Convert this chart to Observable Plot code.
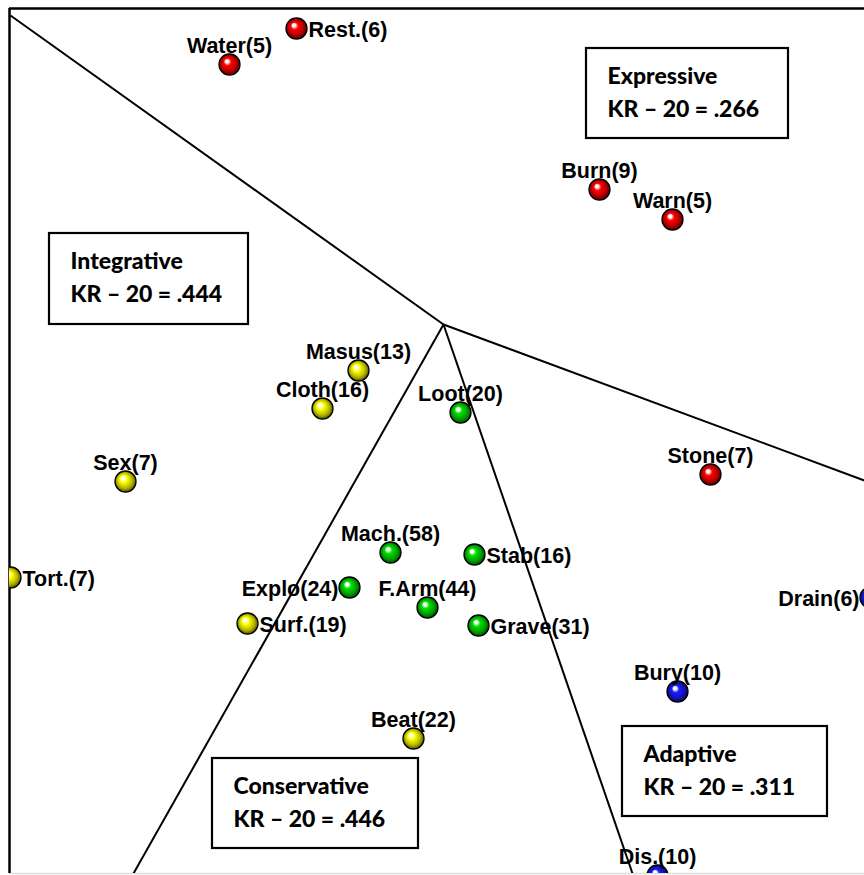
<!DOCTYPE html>
<html>
<head>
<meta charset="utf-8">
<script src="https://cdn.jsdelivr.net/npm/d3@7"></script>
<script src="https://cdn.jsdelivr.net/npm/@observablehq/plot@0.6"></script>
<style>
  html, body { margin: 0; padding: 0; background: #fff; overflow: hidden; }
  g[aria-label="point-label"] text { letter-spacing: 0.9px; }
</style>
</head>
<body>
<div id="chart"></div>
<script>
// ---- Data (MDS-like coordinates) ----
const names  = ["Rest.(6)","Water(5)","Burn(9)","Warn(5)","Stone(7)",
                "Drain(6)","Bury(10)","Dis.(10)",
                "Masus(13)","Cloth(16)","Sex(7)","Tort.(7)","Surf.(19)","Beat(22)",
                "Loot(20)","Mach.(58)","Stab(16)","Explo(24)","F.Arm(44)","Grave(31)"];
const dim1   = [-1.47,-2.14, 1.56, 2.29, 2.67,
                 4.27, 2.34, 2.14,
                -0.85,-1.21,-3.18,-4.33,-1.96,-0.30,
                 0.17,-0.53, 0.31,-0.94,-0.16, 0.35];
const dim2   = [ 2.96, 2.60, 1.35, 1.05,-1.50,
                -2.73,-3.67,-5.51,
                -0.46,-0.84,-1.57,-2.53,-2.99,-4.14,
                -0.88,-2.28,-2.30,-2.63,-2.83,-3.01];
const groups = ["Expressive","Expressive","Expressive","Expressive","Expressive",
                "Adaptive","Adaptive","Adaptive",
                "Integrative","Integrative","Integrative","Integrative","Integrative","Integrative",
                "Conservative","Conservative","Conservative","Conservative","Conservative","Conservative"];
const labelSide = ["right","above","above","above","above",
                   "left","above","above",
                   "above","above","above","right","right","above",
                   "above","above","right","left","above","right"];

const groupNames  = ["Expressive","Adaptive","Integrative","Conservative"];
const groupColors = ["#ff0000","#1a1aff","#ffff00","#00e000"];

// Partition lines: hub and spoke end points
const hub    = [0, 0];
const spokeX = [-4.33, 4.21, -3.10, 1.89];
const spokeY = [ 3.09,-1.56, -5.49,-5.49];

// Annotation boxes
const boxTitles = ["Expressive","Integrative","Conservative","Adaptive"];
const boxKR     = [".266",".444",".446",".311"];
const boxX1     = [ 1.43,-3.94,-2.31, 1.79];
const boxX2     = [ 3.45,-1.95,-0.25, 3.84];
const boxY1     = [ 2.76, 0.91,-4.34,-4.02];
const boxY2     = [ 1.86, 0.00,-5.24,-4.92];

const xDomain = [-4.34, 4.21];
const yDomain = [-5.49, 3.16];

// ---- Build tables ----
const points = names.map((n, i) => ({name: n, x: dim1[i], y: dim2[i], group: groups[i], side: labelSide[i]}));
const spokes = spokeX.map((x, i) => ({x, y: spokeY[i]}));
const boxes = boxTitles.map((t, i) => ({title: t, kr: "KR \u2013 20 = " + boxKR[i], x1: boxX1[i], x2: boxX2[i], y1: boxY1[i], y2: boxY2[i]}));

const gradId = g => "sph-" + g.toLowerCase();

const labelFont = "'Liberation Sans', Arial, sans-serif";
const boxFont = "Lato, 'Open Sans', sans-serif";

const chart = Plot.plot({
  width: 864,
  height: 875,
  marginLeft: 9,
  marginRight: 0,
  marginTop: 8,
  marginBottom: 2,
  x: {domain: xDomain, axis: null},
  y: {domain: yDomain, axis: null},
  color: {type: "ordinal", domain: groupNames, range: groupNames.map(g => `url(#${gradId(g)})`)},
  style: {background: "white", fontFamily: labelFont},
  marks: [
    // frame
    Plot.ruleY([yDomain[0]], {stroke: "#dddddd", strokeWidth: 1.5}),
    Plot.ruleY([yDomain[1]], {stroke: "black", strokeWidth: 2.5}),
    Plot.ruleX([xDomain[0]], {stroke: "black", strokeWidth: 2.5}),
    // partition lines
    Plot.link(spokes, {x1: () => hub[0], y1: () => hub[1], x2: "x", y2: "y", stroke: "black", strokeWidth: 2, clip: true}),
    // boxes
    Plot.rect(boxes, {x1: "x1", x2: "x2", y1: "y1", y2: "y2", fill: "white", stroke: "black", strokeWidth: 2.2}),
    Plot.text(boxes, {x: "x1", y: "y1", text: "title", textAnchor: "start", lineAnchor: "bottom", dx: 21, dy: 35,
      fontFamily: boxFont, fontWeight: 900, fontSize: 23, fill: "black"}),
    Plot.text(boxes, {x: "x1", y: "y1", text: "kr", textAnchor: "start", lineAnchor: "bottom", dx: 21, dy: 68,
      fontFamily: boxFont, fontWeight: 900, fontSize: 23, fill: "black"}),
    // points
    Plot.dot(points, {x: "x", y: "y", r: 10.5, fill: "group", stroke: "black", strokeWidth: 1.3, clip: true}),
    // labels
    Plot.text(points.filter(d => d.side === "above"), {x: "x", y: "y", text: "name", dy: -18,
      fontWeight: "bold", fontSize: 21.5, fill: "black", ariaLabel: "point-label"}),
    Plot.text(points.filter(d => d.side === "right"), {x: "x", y: "y", text: "name", dx: 12, dy: 1.5, textAnchor: "start",
      fontWeight: "bold", fontSize: 21.5, fill: "black", ariaLabel: "point-label"}),
    Plot.text(points.filter(d => d.side === "left"), {x: "x", y: "y", text: "name", dx: -11, dy: 1.5, textAnchor: "end",
      fontWeight: "bold", fontSize: 21.5, fill: "black", ariaLabel: "point-label"})
  ]
});

// sphere gradients
const defs = d3.select(chart).insert("defs", ":first-child");
groupNames.forEach((g, i) => {
  const c = d3.color(groupColors[i]);
  const grad = defs.append("radialGradient")
    .attr("id", gradId(g))
    .attr("cx", "50%").attr("cy", "50%").attr("r", "52%")
    .attr("fx", "36%").attr("fy", "32%");
  grad.append("stop").attr("offset", "0%").attr("stop-color", "#ffffff");
  grad.append("stop").attr("offset", "14%").attr("stop-color", "#ffffff");
  grad.append("stop").attr("offset", "34%").attr("stop-color", c.formatHex());
  grad.append("stop").attr("offset", "72%").attr("stop-color", c.darker(1.0).formatHex());
  grad.append("stop").attr("offset", "100%").attr("stop-color", c.darker(3.5).formatHex());
});

document.getElementById("chart").appendChild(chart);
</script>
</body>
</html>
